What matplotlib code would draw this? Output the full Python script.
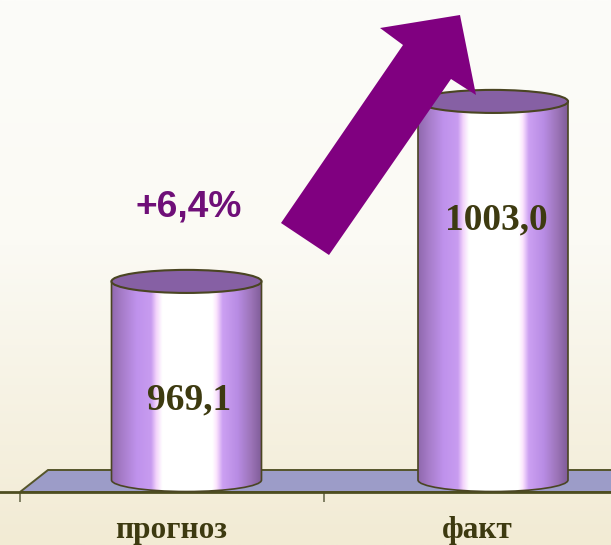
import numpy as np
import matplotlib
matplotlib.use("Agg")
import matplotlib.pyplot as plt
from matplotlib.colors import LinearSegmentedColormap
from matplotlib.patches import Polygon, PathPatch, Ellipse
from matplotlib.path import Path
from matplotlib.transforms import Affine2D

categories = ["прогноз", "факт"]
values = [969.1, 1003.0]
value_labels = ["969,1", "1003,0"]
change_label = "+6,4%"

W, H = 611, 545
fig = plt.figure(figsize=(W / 100, H / 100), dpi=100)
px = Affine2D().scale(1 / W, -1 / H).translate(0, 1) + fig.transFigure  # picture pixels

# page background
bg = fig.add_axes([0, 0, 1, 1], zorder=0)
bg.axis("off")
bg_cmap = LinearSegmentedColormap.from_list("bg", [(0, "#fcfcf9"), (0.45, "#fbfaf4"), (1, "#f2ebd4")])
bg.imshow(np.linspace(0, 1, 256).reshape(-1, 1), cmap=bg_cmap, aspect="auto", extent=[0, 1, 0, 1], vmin=0, vmax=1)

# floor of the 3d chart
fig.add_artist(Polygon([(20, 492), (48, 470), (W + 5, 470), (W + 5, 492)], closed=True, transform=px,
                       facecolor="#9c9cc8", edgecolor="#55552a", linewidth=1.4, zorder=1))

# axis runs along the front edge of the floor
ax = fig.add_axes([0, 1 - 492 / H, 1, 492 / H], zorder=2)
ax.patch.set_alpha(0)
for s in ["top", "left", "right"]:
    ax.spines[s].set_visible(False)
ax.spines["bottom"].set_color("#4d4d20")
ax.spines["bottom"].set_linewidth(2)
ax.set_yticks([])

base_value = 931.7
half_w = 75 / 306.5
rim = 2.17   # half height of the ellipse, in value units

side_cmap = LinearSegmentedColormap.from_list("side", [
    (0, "#8f68ad"), (0.07, "#a67cc8"), (0.17, "#bf92ec"), (0.265, "#c89cf0"), (0.3, "#f3d4fb"), (0.34, "#ffffff"),
    (0.673, "#ffffff"), (0.7, "#fbe4fd"), (0.74, "#cca0f2"), (0.84, "#b88ce4"), (0.93, "#9c74b8"), (1, "#7f5c98")])
grad = np.linspace(0, 1, 256).reshape(1, -1)
edge = "#4a4522"

for i, v in enumerate(values):
    l, r = i - half_w, i + half_w
    k = 0.5523
    verts = [(l, v), (l, base_value),
             (l, base_value - k * rim), (i - k * half_w, base_value - rim), (i, base_value - rim),
             (i + k * half_w, base_value - rim), (r, base_value - k * rim), (r, base_value),
             (r, v), (l, v)]
    codes = [Path.MOVETO, Path.LINETO, Path.CURVE4, Path.CURVE4, Path.CURVE4,
             Path.CURVE4, Path.CURVE4, Path.CURVE4, Path.LINETO, Path.CLOSEPOLY]
    shape = PathPatch(Path(verts, codes), facecolor="none", edgecolor=edge, linewidth=1.2, zorder=3)
    ax.add_patch(shape)
    im = ax.imshow(grad, cmap=side_cmap, aspect="auto", extent=[l, r, base_value - rim, v], zorder=2.9)
    im.set_clip_path(shape)
    ax.add_patch(Ellipse((i, v), 2 * half_w, 2 * rim, facecolor="#8660a4", edgecolor=edge, linewidth=1.5, zorder=4))
    ax.text(i + 0.01, v - 22.4, value_labels[i], ha="center", va="center", family="Liberation Serif",
            fontweight="bold", fontsize=27, color="#3d3a10", zorder=5)

ax.set_xlim(-186.5 / 306.5, (W - 186.5) / 306.5)
ax.set_ylim(929.44, 1022.1)

# category labels as major ticks on the front plane, the tick marks between them
ax.set_xticks([i - 15.5 / 306.5 for i in range(len(categories))])
ax.set_xticklabels(categories, family="Liberation Serif", fontweight="bold", fontsize=22.5, color="#3d3a10")
ax.tick_params(axis="x", which="major", length=0, pad=17)
ax.set_xticks([(20 - 186.5) / 306.5, (324 - 186.5) / 306.5], minor=True)
ax.tick_params(axis="x", which="minor", length=7.5, width=1.3, color="#77775a")

# growth arrow and its label sit on top of everything
fig.add_artist(Polygon([(281, 223), (329, 255), (451, 79), (476, 95), (460, 15), (380, 28), (403, 45)],
                       closed=True, transform=px, facecolor="#800080", edgecolor="none", zorder=6))
fig.text(189, 206.5, change_label, transform=px, ha="center", va="center", family="Liberation Sans",
         fontweight="bold", fontsize=26.7, color="#6f0f78", zorder=6)

fig.savefig("out.png", dpi=100)
